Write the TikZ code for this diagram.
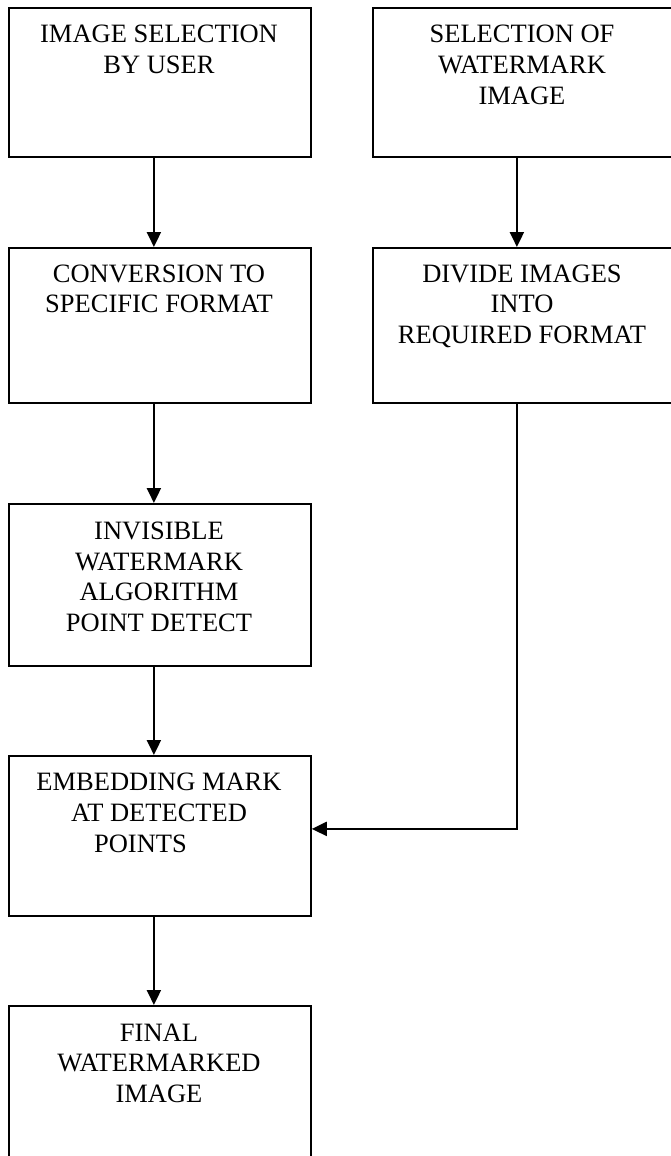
\documentclass[tikz,border=0pt]{standalone}
\usepackage{fontspec}
\setmainfont{Liberation Serif}
\usetikzlibrary{arrows.meta}
\begin{document}
\begin{tikzpicture}[x=1pt,y=-1pt,
  box/.style={draw, line width=1.8pt, minimum width=302pt, minimum height=#1, inner sep=0pt, anchor=north west},
  lbl/.style={align=center, anchor=base, inner sep=0pt, font=\fontsize{26.5}{30.7}\selectfont},
  arr/.style={line width=2.2pt, -{Triangle[length=15pt,width=14pt]}}]
\useasboundingbox (0,0) rectangle (670,1156);
% boxes
\node[box=149pt] (b1) at (8,7) {};
\node[box=149pt] (r1) at (372,7) {};
\node[box=155pt] (b2) at (8,247) {};
\node[box=155pt] (r2) at (372,247) {};
\node[box=162pt] (b3) at (8,503) {};
\node[box=160pt] (b4) at (8,755) {};
\node[box=200pt] (b5) at (8,1005) {};
% texts (anchor at the baseline of the last line)
\node[lbl] (t1) at (159,73.4) {IMAGE SELECTION\\BY USER};
\node[lbl] (u1) at (522,104.1) {SELECTION OF\\WATERMARK\\IMAGE};
\node[lbl] (t2) at (159,312.7) {CONVERSION TO\\SPECIFIC FORMAT};
\node[lbl] (u2) at (522,343.4) {DIVIDE IMAGES\\INTO\\REQUIRED FORMAT};
\node[lbl] (t3) at (159,631.4) {INVISIBLE\\WATERMARK\\ALGORITHM\\POINT DETECT};
\node[lbl] (t4) at (159,852.1) {EMBEDDING MARK\\AT DETECTED\\POINTS\hspace*{37pt}};
\node[lbl] (t5) at (159,1102.4) {FINAL\\WATERMARKED\\IMAGE};
% connectors
\draw[arr] ([xshift=-6pt]b1.south) -- ([xshift=-6pt]b2.north);
\draw[arr] ([xshift=-7pt]r1.south) -- ([xshift=-7pt]r2.north);
\draw[arr] ([xshift=-6pt]b2.south) -- ([xshift=-6pt]b3.north);
\draw[arr] ([xshift=-6pt]b3.south) -- ([xshift=-6pt]b4.north);
\draw[arr] ([xshift=-6pt]b4.south) -- ([xshift=-6pt]b5.north);
\draw[arr] ([xshift=-7pt]r2.south) |- ([yshift=7pt]b4.east);
\end{tikzpicture}
\end{document}
